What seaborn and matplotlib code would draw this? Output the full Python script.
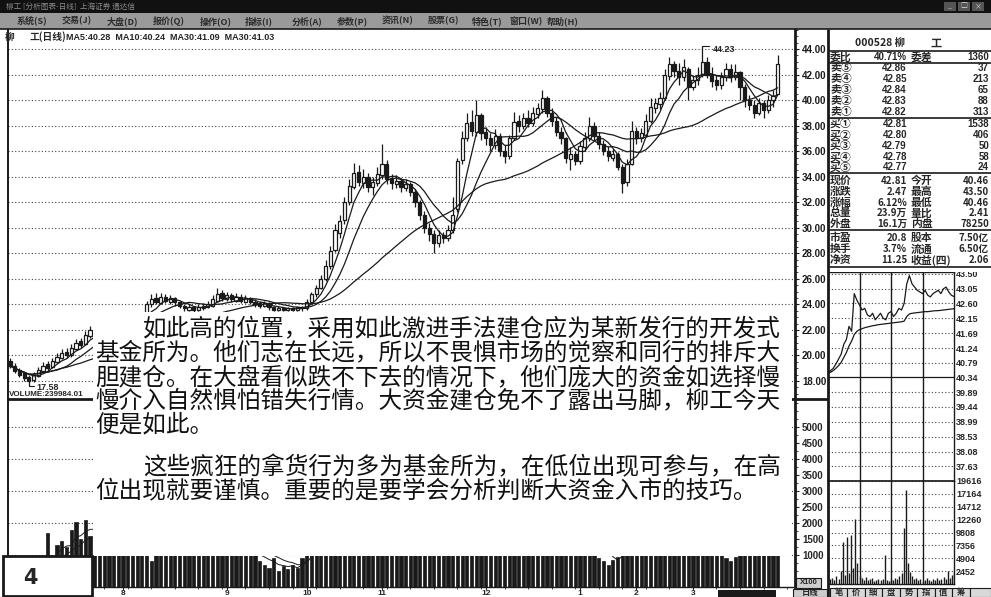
import numpy as np
import pandas as pd
import matplotlib
matplotlib.use("Agg")
import matplotlib.pyplot as plt
import seaborn as sns
from matplotlib.ticker import MultipleLocator

# ---------------- data ----------------
opens = [19.6,19.2,18.9,18.6,18.3,18.1,18.4,18.8,19.3,19.1,19.5,19.8,20.3,20.0,20.5,21.1,20.9,21.5,
         22.0,21.8,21.6,22.0,22.3,22.0,22.5,22.8,22.6,23.0,22.7,23.0,24.0,24.5,24.1,24.6,24.2,24.5,
         24.2,23.9,23.6,23.8,23.6,23.7,23.8,23.9,24.3,24.9,24.4,24.7,24.3,24.6,24.2,24.5,24.2,24.1,
         23.9,24.1,23.8,23.6,23.7,23.6,23.7,23.6,23.8,23.7,24.2,24.8,25.3,26.0,27.0,28.3,29.6,30.6,
         32.0,33.2,34.4,33.5,34.0,33.2,33.5,34.1,35.0,33.9,33.4,33.7,33.1,33.4,32.8,32.0,31.0,30.0,
         29.5,28.8,29.4,29.2,29.8,31.5,35.3,37.0,38.3,37.5,38.8,37.5,37.0,36.5,37.2,36.0,35.6,37.0,
         38.4,38.0,38.6,38.2,38.9,39.3,40.2,39.0,38.4,37.5,37.0,35.4,35.8,35.2,36.3,37.0,38.0,37.2,
         36.6,36.0,35.5,35.8,34.8,33.6,35.0,37.6,37.0,37.3,38.4,39.4,39.7,40.2,41.9,42.8,42.3,41.8,
         42.4,41.0,41.6,42.0,43.0,42.0,41.6,41.2,41.8,42.4,41.8,42.2,41.0,40.0,39.6,39.0,39.8,39.2,
         40.0,40.46]
highs = [19.8,19.4,19.0,18.8,18.5,18.7,19.1,19.5,19.6,19.8,20.2,20.5,20.6,20.9,21.3,21.4,21.9,22.3,
         22.3,22.0,22.2,22.5,22.5,22.7,23.0,23.0,23.2,23.2,23.2,24.3,24.8,24.9,24.9,24.8,24.7,24.6,
         24.3,24.0,24.0,23.9,24.0,24.1,24.3,24.7,25.3,25.1,25.0,24.9,24.9,24.8,24.7,24.6,24.4,24.3,
         24.3,24.2,23.9,23.9,23.8,23.8,23.8,23.9,23.9,24.4,25.0,25.5,26.3,27.5,28.6,30.3,31.0,32.4,
         33.8,35.1,34.9,34.6,34.3,34.0,34.8,36.6,35.3,34.2,34.1,33.9,33.8,33.6,33.0,32.2,31.3,30.4,
         29.8,29.8,29.7,30.2,32.4,35.5,37.6,39.0,39.2,40.0,39.0,37.9,37.4,37.7,37.4,36.5,37.3,39.1,
         38.8,39.0,39.2,39.5,39.8,40.8,40.3,39.4,38.7,37.9,37.1,36.3,36.0,36.8,37.5,38.7,38.3,37.5,
         36.9,36.4,36.2,35.9,35.0,35.4,38.4,37.9,37.8,38.9,40.2,40.2,40.6,42.4,43.4,43.1,42.9,43.2,
         42.6,42.0,42.6,44.23,43.4,42.6,42.0,42.2,42.9,42.8,42.8,42.3,41.3,40.4,40.0,40.2,40.0,40.4,
         40.8,43.50]
lows = [19.0,18.6,18.3,18.0,17.58,17.9,18.3,18.7,18.8,19.0,19.4,19.7,19.8,19.9,20.4,20.6,20.8,21.4,
        21.6,21.3,21.5,21.9,21.8,21.9,22.4,22.4,22.5,22.6,22.6,22.9,23.8,24.0,24.0,24.1,24.0,23.9,
        23.7,23.5,23.5,23.4,23.5,23.6,23.7,23.8,24.2,24.3,24.3,24.2,24.2,24.1,24.1,24.0,23.8,23.7,
        23.8,23.6,23.5,23.5,23.5,23.5,23.5,23.5,23.5,23.6,24.1,24.6,25.2,25.8,26.8,28.1,29.2,30.3,
        31.8,33.0,33.3,33.1,32.8,32.6,33.3,33.8,33.4,33.0,33.1,32.8,32.9,32.5,31.6,30.6,29.6,29.0,
        28.0,28.5,28.8,29.0,29.6,31.2,35.0,36.8,37.2,37.2,36.9,36.5,36.0,36.2,35.6,35.1,35.4,36.9,
        37.5,37.7,37.9,38.0,38.6,39.0,38.7,38.0,37.2,36.6,35.1,34.5,34.9,35.0,36.0,36.8,36.9,36.2,
        35.7,35.2,35.2,34.5,32.7,33.3,34.9,36.6,36.7,37.1,38.2,39.0,39.3,40.0,41.6,41.8,41.2,41.5,
        40.0,40.8,41.2,41.8,41.7,41.0,40.8,40.9,41.5,41.4,41.6,40.0,39.5,39.2,38.6,38.8,38.6,39.0,
        39.5,40.46]
closes = [19.2,18.8,18.5,18.2,18.0,18.5,18.9,19.2,19.0,19.6,19.9,20.2,20.0,20.6,21.0,20.8,21.6,22.0,
          21.8,21.6,22.0,22.3,22.0,22.5,22.8,22.6,23.0,22.7,23.0,24.0,24.4,24.2,24.6,24.3,24.5,24.2,
          23.9,23.7,23.8,23.6,23.8,23.9,24.0,24.4,24.8,24.5,24.7,24.4,24.6,24.3,24.5,24.2,24.0,23.9,
          24.1,23.8,23.6,23.7,23.6,23.7,23.6,23.8,23.7,24.2,24.8,25.3,26.0,27.0,28.2,29.8,30.5,32.0,
          33.3,34.3,33.6,34.0,33.2,33.6,34.2,35.0,33.8,33.5,33.7,33.2,33.4,32.8,32.0,31.0,30.0,29.5,
          28.8,29.4,29.2,29.8,31.0,35.2,37.0,38.2,37.6,38.8,37.4,37.0,36.5,37.2,36.0,35.6,37.0,38.3,
          38.0,38.6,38.2,39.0,39.4,40.2,39.0,38.4,37.5,37.0,35.5,35.8,35.2,36.4,37.0,38.0,37.2,36.6,
          36.0,35.6,35.8,34.8,33.5,35.0,37.6,37.0,37.4,38.4,39.5,39.8,40.2,42.0,42.8,42.3,41.8,42.6,
          41.0,41.6,42.0,43.0,42.0,41.5,41.2,41.8,42.4,41.8,42.2,41.0,40.0,39.6,39.0,39.8,39.2,40.0,
          40.3,42.81]
volumes = [600,700,500,800,900,700,600,800,1700,700,1300,1450,1250,1780,2030,1500,2090,1600,
           1800,1500,1400,1600,1300,1200,1500,1400,1100,1300,1200,2500,800,1800,1500,1300,1200,1400,
           1100,1000,1200,1100,1000,1300,1200,1600,1900,1500,1300,1200,1400,1100,1000,1200,1000,800,
           700,600,900,500,650,550,700,600,900,1500,2500,3000,3500,4000,4500,5000,4200,4800,
           5200,4500,3800,3500,3000,2800,3200,4000,3000,2600,2400,2200,2000,2500,2800,2300,2000,1800,
           2200,1900,1600,1800,2200,5000,4500,4000,3000,3200,2800,2500,2200,2000,2400,2100,2600,3000,
           2800,2500,2700,2400,3000,3200,2600,2200,2000,1800,2300,1900,1700,1600,1800,2000,1500,900,
           800,700,850,950,1500,2200,3000,2500,2400,2800,3000,2600,3200,4000,3500,3000,2800,3200,
           2600,2400,2800,3500,3000,2400,2000,1800,900,800,950,1600,1800,1500,1400,1300,1200,1100,
           1300,2400]
month_labels = ['8', '9', '10', '11', '12', '1', '2', '3']
month_pos = [24, 46, 63, 79, 101, 121, 133, 145]
price_ticks = [18, 20, 22, 24, 26, 28, 30, 32, 34, 36, 38, 40, 42, 44]
vol_ticks = [1000, 1500, 2000, 2500, 3000, 3500, 4000, 4500, 5000]

intraday_price = [40.46,40.55,40.62,40.75,40.90,41.05,41.35,41.50,41.90,41.75,42.90,42.70,42.55,42.40,
                  42.45,42.25,42.20,42.30,42.10,42.20,42.30,42.15,42.10,42.30,42.35,42.20,42.30,42.45,
                  42.40,42.60,43.20,43.45,43.20,43.10,43.00,42.95,42.90,43.00,42.85,42.80,42.90,42.95,
                  43.00,42.90,43.05,43.10,42.95,42.85,42.81]
intraday_avg = [40.46,40.50,40.55,40.62,40.70,40.80,40.95,41.10,41.30,41.45,41.65,41.75,41.80,41.83,
                41.86,41.88,41.90,41.92,41.93,41.95,41.96,41.97,41.98,41.99,42.00,42.01,42.02,42.03,
                42.04,42.06,42.20,42.28,42.30,42.31,42.32,42.33,42.34,42.35,42.35,42.36,42.37,42.38,
                42.38,42.39,42.40,42.41,42.42,42.43,42.44]
intraday_vol = [2000,900,1200,700,1500,1000,2500,8000,1800,9000,2000,9300,3000,12400,4000,1500,
                1200,800,1300,700,900,1100,600,800,1000,700,900,5500,800,600,1000,700,1200,900,
                1500,2000,10700,17900,4000,2200,1500,900,1200,700,900,600,800,1100,700,600,900,700,
                1200,800,1000,1300,900,2500,1200,1800,2200]
intraday_price_ticks = [43.50, 43.05, 42.60, 42.15, 41.69, 41.24, 40.79, 40.34,
                        39.89, 39.44, 38.99, 38.53, 38.08, 37.63]
intraday_vol_ticks = [19616, 17164, 14712, 12260, 9808, 7356, 4904, 2452]

book_labels = ['卖⑤', '卖④', '卖③', '卖②', '卖①', '买①', '买②', '买③', '买④', '买⑤']
book_prices = [42.86, 42.85, 42.84, 42.83, 42.82, 42.81, 42.80, 42.79, 42.78, 42.77]
book_vols = [37, 213, 65, 88, 313, 1538, 406, 50, 58, 24]
stat_left_labels = ['现价', '涨跌', '涨幅', '总量', '外盘', '市盈', '换手', '净资']
stat_left_vals = ['42.81', '2.47', '6.12%', '23.9万', '16.1万', '20.8', '3.7%', '11.25']
stat_right_labels = ['今开', '最高', '最低', '量比', '内盘', '股本', '流通', '收益(四)']
stat_right_vals = ['40.46', '43.50', '40.46', '2.41', '78250', '7.50亿', '6.50亿', '2.06']

menu_items = ['系统(S)', '交易(J)', '大盘(D)', '报价(Q)', '操作(O)', '指标(I)', '分析(A)',
              '参数(P)', '资讯(N)', '股票(G)', '特色(T)', '窗口(W)', '帮助(H)']
tab_labels = ['笔', '价', '细', '盘', '势', '指', '值', '筹']

text_lines = [
    '如此高的位置，采用如此激进手法建仓应为某新发行的开发式',
    '基金所为。他们志在长远，所以不畏惧市场的觉察和同行的排斥大',
    '胆建仓。在大盘看似跌不下去的情况下，他们庞大的资金如选择慢',
    '慢介入自然惧怕错失行情。大资金建仓免不了露出马脚，柳工今天',
    '便是如此。',
    '这些疯狂的拿货行为多为基金所为，在低位出现可参与，在高',
    '位出现就要谨慎。重要的是要学会分析判断大资金入市的技巧。',
]

# ---------------- figure ----------------
sns.set_theme(style="white")
plt.rcParams['font.family'] = ['Noto Sans CJK SC', 'DejaVu Sans']
plt.rcParams['axes.linewidth'] = 1.0

W, H = 991, 597
fig = plt.figure(figsize=(W / 100, H / 100), dpi=100)
fig.patch.set_facecolor('white')


def rect(l, t, r, b):
    return [l / W, 1 - b / H, (r - l) / W, (b - t) / H]


NUM = dict(family='Liberation Sans', weight='bold')
GRID = dict(color='#444444', lw=0.8, ls=(0, (1, 2)))

n = len(closes)
idx = np.arange(n)
df = pd.DataFrame({'i': idx, 'open': opens, 'high': highs, 'low': lows,
                   'close': closes, 'vol': volumes})
df['ma5'] = df['close'].rolling(5, min_periods=1).mean()
df['ma10'] = df['close'].rolling(10, min_periods=1).mean()
df['ma30'] = df['close'].rolling(30, min_periods=1).mean()
df['vma5'] = df['vol'].rolling(5, min_periods=1).mean()
df['vma10'] = df['vol'].rolling(10, min_periods=1).mean()

x_lo, x_hi = -0.425, 166.67

# ---- price panel ----
ax = fig.add_axes(rect(8, 29, 795, 398))
ax.set_xlim(x_lo, x_hi)
ax.set_ylim(16.67, 45.57)
for v in price_ticks:
    ax.axhline(v, **GRID, zorder=0)
up = df['close'] >= df['open']
ax.vlines(df['i'], df['low'], df['high'], color='k', lw=0.9, zorder=2)
ax.bar(df['i'][up], (df['close'] - df['open'])[up].clip(lower=0.08), bottom=df['open'][up],
       width=0.68, color='white', edgecolor='k', linewidth=0.9, zorder=3)
ax.bar(df['i'][~up], (df['open'] - df['close'])[~up].clip(lower=0.08), bottom=df['close'][~up],
       width=0.68, color='k', edgecolor='k', linewidth=0.9, zorder=3)
for col in ['ma5', 'ma10', 'ma30']:
    sns.lineplot(data=df, x='i', y=col, ax=ax, color='k', lw=0.9, legend=False, zorder=4)
imax = int(np.argmax(highs))
imin = int(np.argmin(lows))
ax.plot([imax, imax + 1.5], [highs[imax], highs[imax]], color='k', lw=0.8)
ax.text(imax + 2.3, highs[imax] - 0.25, f'{highs[imax]:.2f}', fontsize=6.5, va='center', **NUM)
ax.plot([imin, imin + 1.2], [lows[imin], lows[imin]], color='k', lw=0.8)
ax.text(imin + 1.6, lows[imin] - 0.05, f'{lows[imin]:.2f}', fontsize=6.5, va='center', **NUM)
ax.set_xlabel('')
ax.set_ylabel('')
ax.set_xticks([])
ax.yaxis.tick_right()
ax.set_yticks(price_ticks)
ax.set_yticklabels([f'{v:.2f}' for v in price_ticks], fontsize=7, **NUM)
ax.yaxis.set_minor_locator(MultipleLocator(0.5))
ax.tick_params(axis='y', which='major', right=True, left=False, direction='out', length=3,
               width=0.8, pad=2, colors='k')
ax.tick_params(axis='y', which='minor', right=True, left=False, direction='out', length=1.8,
               width=0.6)
for s in ['top', 'bottom']:
    ax.spines[s].set_visible(False)
ax.spines['left'].set_linewidth(1.4)
ax.spines['right'].set_linewidth(2.0)
for s in ax.spines.values():
    s.set_color('k')

# ---- volume panel ----
axv = fig.add_axes(rect(8, 399, 795, 587))
axv.set_xlim(x_lo, x_hi)
axv.set_ylim(0, 5875)
for v in [1000, 2000, 3000, 4000, 5000]:
    axv.axhline(v, **GRID, zorder=0)
axv.bar(df['i'], df['vol'], width=0.68, color='k', edgecolor='k', linewidth=0.5, zorder=2)
for col in ['vma5', 'vma10']:
    sns.lineplot(data=df, x='i', y=col, ax=axv, color='k', lw=0.7, legend=False, zorder=3)
axv.set_xlabel('')
axv.set_ylabel('')
axv.yaxis.tick_right()
axv.set_yticks(vol_ticks)
axv.set_yticklabels([str(v) for v in vol_ticks], fontsize=7, **NUM)
axv.yaxis.set_minor_locator(MultipleLocator(250))
axv.tick_params(axis='y', which='major', right=True, left=False, direction='out', length=3,
                width=0.8, pad=2)
axv.tick_params(axis='y', which='minor', right=True, left=False, direction='out', length=1.8,
                width=0.6)
axv.set_xticks(month_pos)
axv.set_xticklabels(month_labels, fontsize=6, **NUM)
axv.xaxis.set_minor_locator(MultipleLocator(5))
axv.tick_params(axis='x', which='major', bottom=True, direction='out', length=2, width=0.8, pad=0.5)
axv.tick_params(axis='x', which='minor', bottom=True, direction='out', length=1.5, width=0.6)
axv.spines['top'].set_linewidth(2.0)
axv.spines['left'].set_linewidth(1.4)
axv.spines['right'].set_linewidth(2.0)
axv.spines['bottom'].set_linewidth(1.0)
for s in axv.spines.values():
    s.set_color('k')

# ---- intraday panels ----
mins = np.arange(0, 241, 5)
vmins = np.arange(0, 241, 4)
axi = fig.add_axes(rect(828, 272, 954, 481))
axi.set_xlim(0, 240)
axi.set_ylim(37.18, 43.56)
for v in intraday_price_ticks:
    if abs(v - 40.34) < 0.01:
        axi.axhline(v, color='k', lw=0.9)
    else:
        axi.axhline(v, **GRID)
for m in [60, 120, 180]:
    axi.axvline(m, color='k', lw=1.0)
idf = pd.DataFrame({'m': mins, 'p': intraday_price, 'a': intraday_avg})
sns.lineplot(data=idf, x='m', y='p', ax=axi, color='k', lw=0.9, legend=False)
sns.lineplot(data=idf, x='m', y='a', ax=axi, color='k', lw=0.9, legend=False)
axi.set_xlabel('')
axi.set_ylabel('')
axi.set_xticks([])
axi.yaxis.tick_right()
axi.set_yticks(intraday_price_ticks)
axi.set_yticklabels([f'{v:.2f}' for v in intraday_price_ticks], fontsize=6.5, **NUM)
axi.tick_params(axis='y', right=True, left=False, length=0, pad=1.5)
for s in axi.spines.values():
    s.set_color('k')
    s.set_linewidth(1.0)
axi.spines['left'].set_visible(False)

axiv = fig.add_axes(rect(828, 481, 954, 584))
axiv.set_xlim(0, 240)
axiv.set_ylim(0, 19616)
for v in intraday_vol_ticks:
    axiv.axhline(v, **GRID)
for m in [60, 120, 180]:
    axiv.axvline(m, color='k', lw=1.0)
axiv.vlines(vmins, 0, intraday_vol, color='k', lw=1.0)
axiv.set_xticks([])
axiv.yaxis.tick_right()
axiv.set_yticks(intraday_vol_ticks)
axiv.set_yticklabels([str(v) for v in intraday_vol_ticks], fontsize=6.5, **NUM)
axiv.tick_params(axis='y', right=True, left=False, length=0, pad=1.5)
for s in axiv.spines.values():
    s.set_color('k')
    s.set_linewidth(1.0)
axiv.spines['left'].set_visible(False)
axiv.spines['top'].set_linewidth(1.2)

# ---- overlay in pixel coordinates ----
ax_o = fig.add_axes([0, 0, 1, 1])
ax_o.set_zorder(10)
ax_o.patch.set_alpha(0)
ax_o.set_xlim(0, W)
ax_o.set_ylim(H, 0)
ax_o.axis('off')


def box(l, t, r, b, fc='white', ec='none', lw=0, z=1):
    ax_o.add_patch(plt.Rectangle((l, t), r - l, b - t, facecolor=fc, edgecolor=ec, lw=lw, zorder=z))


def line(x0, y0, x1, y1, lw=1.0, z=3):
    ax_o.plot([x0, x1], [y0, y1], color='k', lw=lw, zorder=z, solid_capstyle='butt')


# title & menu bars
box(0, 0, W, 13, fc='#111111')
box(0, 13, W, 29, fc='#9a9a9a')
line(0, 29, W, 29, lw=1.2)
ax_o.text(6, 7, '柳工 [分析图表-日线]  上海证券 通达信', fontsize=5.5, color='#8a8a8a',
          va='center', ha='left')
for k, (lab, xm) in enumerate(zip(menu_items, [17, 62, 107, 153, 200, 245, 292, 337, 382, 428, 472, 510, 547])):
    ax_o.text(xm, 21, lab, fontsize=6.5, color='#2a2a2a', va='center', ha='left', weight='bold')
for xb, sym in zip([950, 964, 978], ['_', '□', '×']):
    box(xb - 6, 2, xb + 6, 11, fc='#555555')
    ax_o.text(xb, 6.5, sym, fontsize=5, color='#dddddd', ha='center', va='center')

# header line of the K-line window
ax_o.text(5, 37, '柳', fontsize=7, weight='bold', va='center')
ax_o.text(30, 37, '工(日线)', fontsize=7, weight='bold', va='center')
ax_o.text(66, 37, 'MA5:40.28  MA10:40.24  MA30:41.09  MA30:41.03', fontsize=6.5,
          va='center', **NUM)

# volume title
ax_o.text(9, 394, 'VOLUME:239984.01', fontsize=5.8, va='center', **NUM)

# text block (covers the chart)
box(93, 312, 792, 556, fc='white', z=2)
line_ys = [330, 354, 378, 401, 425, 468, 492]
line_xs = [143, 95, 95, 95, 95, 143, 95]
for t, y0, x0 in zip(text_lines, line_ys, line_xs):
    ax_o.text(x0, y0, t, fontsize=17.0, family=['Noto Sans CJK SC'],
              va='center', ha='left', color='#111111', zorder=4)

# page number box
box(3, 556, 92, 596, fc='white', ec='k', lw=2.0, z=5)
ax_o.text(30, 578, '4', fontsize=15, weight='bold', family=['DejaVu Sans'], va='center',
          ha='center', zorder=6)

# black date marker at bottom
box(718, 590, 776, 597, fc='k', z=5)

# right panel frame
box(829, 29, W, 272, fc='white', z=1)
line(828, 29, 828, 597, lw=2.0)
line(795, 399, 828, 399, lw=2.0)
ax_o.text(855, 43, '000528 柳', fontsize=7.5, weight='bold', va='center', ha='left')
ax_o.text(936, 43, '工', fontsize=8, weight='bold', va='center', ha='center')
for y in [51, 63, 118, 173, 230, 267]:
    line(828, y, W, y, lw=1.2)

ax_o.text(830, 57, '委比', fontsize=7.8, weight='bold', va='center')
ax_o.text(907, 57, '40.71%', fontsize=7, va='center', ha='right', **NUM)
ax_o.text(911, 57, '委差', fontsize=7.8, weight='bold', va='center')
ax_o.text(989, 57, '1360', fontsize=7, va='center', ha='right', **NUM)

book_y = [68, 79, 90, 101, 112, 124, 135, 146, 157, 167]
for lab, p, v, y in zip(book_labels, book_prices, book_vols, book_y):
    ax_o.text(830, y, lab, fontsize=7.8, weight='bold', va='center')
    ax_o.text(907, y, f'{p:.2f}', fontsize=7, va='center', ha='right', **NUM)
    ax_o.text(989, y, str(v), fontsize=7, va='center', ha='right', **NUM)

stat_y = [181, 192, 203, 213, 224, 238, 249, 260]
for ll, lv, rl, rv, y in zip(stat_left_labels, stat_left_vals, stat_right_labels,
                             stat_right_vals, stat_y):
    ax_o.text(830, y, ll, fontsize=7.8, weight='bold', va='center')
    ax_o.text(907, y, lv, fontsize=7, va='center', ha='right', weight='bold')
    ax_o.text(911, y, rl, fontsize=7.8, weight='bold', va='center')
    ax_o.text(989, y, rv, fontsize=7, va='center', ha='right', weight='bold')

# X100 box and bottom tabs
box(796, 578, 821, 588, fc='#cccccc', ec='k', lw=0.8, z=5)
ax_o.text(808.5, 583, 'X100', fontsize=5.5, ha='center', va='center', zorder=6, **NUM)
box(793, 589, 827, 597, fc='#cccccc', ec='k', lw=0.8, z=5)
ax_o.text(810, 593, '日线', fontsize=6, weight='bold', ha='center', va='center', zorder=6)
tab_edges = [830, 847, 865, 882, 900, 917, 935, 952, 970]
for k, lab in enumerate(tab_labels):
    l, r = tab_edges[k], tab_edges[k + 1]
    box(l, 588, r, 597, fc='#d8d8d8', ec='k', lw=0.8, z=5)
    ax_o.text((l + r) / 2, 592.5, lab, fontsize=6, weight='bold', ha='center', va='center', zorder=6)
box(970, 588, 991, 597, fc='#d8d8d8', ec='k', lw=0.8, z=5)

fig.savefig('out.png', dpi=100, facecolor='white')
